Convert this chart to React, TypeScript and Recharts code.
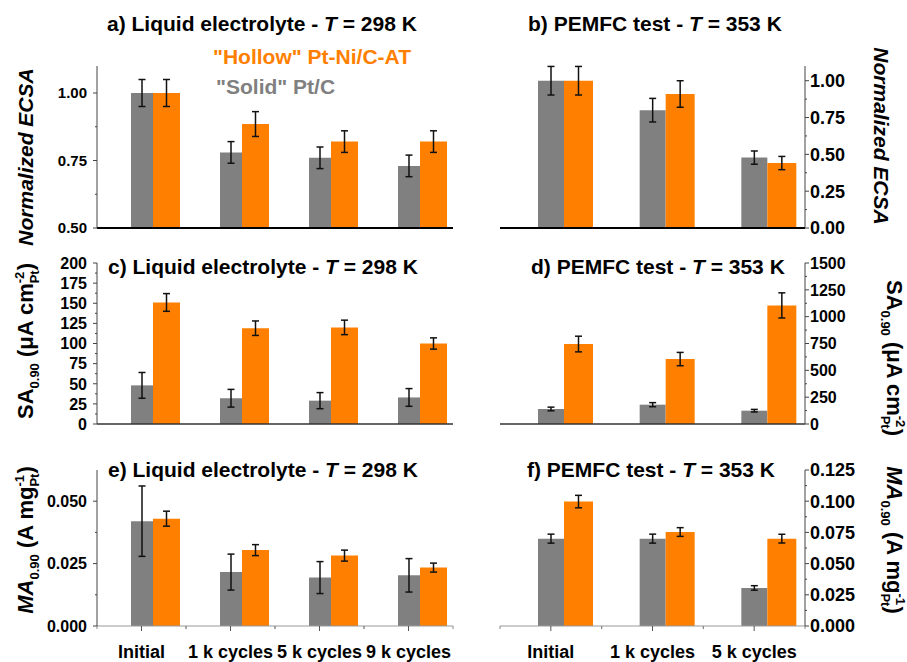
import React from 'react';
import { BarChart, Bar, XAxis, YAxis, ErrorBar } from 'recharts';

const FONT = '"Liberation Sans", Arial, Helvetica, sans-serif';
const GRAY = '#808080';
const ORANGE = '#FF8000';

// Categories
const liquidCycles = ['Initial', '1 k cycles', '5 k cycles', '9 k cycles'];
const pemfcCycles = ['Initial', '1 k cycles', '5 k cycles'];

// Series names (legend)
const seriesNames = ['"Solid" Pt/C', '"Hollow" Pt-Ni/C-AT'];

// Panel titles
const titlePrefixes = [
  'a) Liquid electrolyte - ',
  'b) PEMFC test - ',
  'c) Liquid electrolyte - ',
  'd) PEMFC test - ',
  'e) Liquid electrolyte - ',
  'f) PEMFC test - ',
];
const titleTemps = ['298 K', '353 K', '298 K', '353 K', '298 K', '353 K'];

// Normalized ECSA
const ecsaLiquidSolid = [1.0, 0.78, 0.76, 0.73];
const ecsaLiquidSolidErr = [0.05, 0.04, 0.04, 0.04];
const ecsaLiquidHollow = [1.0, 0.885, 0.82, 0.82];
const ecsaLiquidHollowErr = [0.05, 0.046, 0.04, 0.04];
const ecsaPemfcSolid = [1.0, 0.8, 0.478];
const ecsaPemfcSolidErr = [0.097, 0.08, 0.045];
const ecsaPemfcHollow = [1.0, 0.91, 0.441];
const ecsaPemfcHollowErr = [0.097, 0.09, 0.045];

// Specific activity at 0.90 V (µA cm-2 Pt)
const saLiquidSolid = [48, 32, 29, 33];
const saLiquidSolidErr = [16, 11, 10, 11];
const saLiquidHollow = [151, 119, 120, 100];
const saLiquidHollowErr = [11, 9, 9, 7];
const saPemfcSolid = [140, 180, 124];
const saPemfcSolidErr = [17, 19, 12];
const saPemfcHollow = [745, 605, 1105];
const saPemfcHollowErr = [73, 62, 117];

// Mass activity at 0.90 V (A mg-1 Pt)
const maLiquidSolid = [0.042, 0.0216, 0.0194, 0.0203];
const maLiquidSolidErr = [0.0141, 0.0072, 0.0064, 0.0067];
const maLiquidHollow = [0.043, 0.0304, 0.0282, 0.0234];
const maLiquidHollowErr = [0.003, 0.0022, 0.0022, 0.0018];
const maPemfcSolid = [0.07, 0.07, 0.0305];
const maPemfcSolidErr = [0.0036, 0.0036, 0.0018];
const maPemfcHollow = [0.0997, 0.0753, 0.07];
const maPemfcHollowErr = [0.005, 0.0035, 0.0035];

// Axis ticks
const ecsaLiquidMajor = [0.5, 0.75, 1.0];
const ecsaLiquidMinor = [0.625, 0.875];
const ecsaPemfcMajor = [0, 0.25, 0.5, 0.75, 1.0];
const ecsaPemfcMinor = [0.125, 0.375, 0.625, 0.875];
const saLiquidMajor = [0, 25, 50, 75, 100, 125, 150, 175, 200];
const saLiquidMinor = [12.5, 37.5, 62.5, 87.5, 112.5, 137.5, 162.5, 187.5];
const saPemfcMajor = [0, 250, 500, 750, 1000, 1250, 1500];
const saPemfcMinor = [125, 375, 625, 875, 1125, 1375];
const maLiquidMajor = [0, 0.025, 0.05];
const maLiquidMinor = [0.0125, 0.0375];
const maPemfcMajor = [0, 0.025, 0.05, 0.075, 0.1, 0.125];
const maPemfcMinor = [0.0125, 0.0375, 0.0625, 0.0875, 0.1125];

type Side = 'left' | 'right';

function YTick(props: any) {
  const { x, y, payload, side, majors, digits, fontSize } = props;
  const v = payload.value as number;
  const major = majors.some((m: number) => Math.abs(m - v) < 1e-9);
  const dir = side === 'left' ? -1 : 1;
  const len = major ? 4 : 2;
  const gap = side === 'left' ? 10 : 5;
  return (
    <g>
      <line x1={x} y1={y} x2={x + dir * len} y2={y} stroke="#444" strokeWidth={1} />
      {major && (
        <text
          x={x + dir * gap}
          y={y}
          dy="0.36em"
          textAnchor={side === 'left' ? 'end' : 'start'}
          fontSize={fontSize}
          fontWeight="bold"
          fontFamily={FONT}
          fill="#000"
        >
          {v.toFixed(digits)}
        </text>
      )}
    </g>
  );
}

function XTick(props: any) {
  const { x, y, payload, band } = props;
  return (
    <g>
      <line x1={x} y1={y} x2={x} y2={y + 5} stroke="#555" strokeWidth={1} />
      <line x1={x - band / 2} y1={y} x2={x - band / 2} y2={y + 3} stroke="#888" strokeWidth={1} />
      <line x1={x + band / 2} y1={y} x2={x + band / 2} y2={y + 3} stroke="#888" strokeWidth={1} />
      <text x={x} y={y + 32} textAnchor="middle" fontSize={18} fontWeight="bold" fontFamily={FONT} fill="#000">
        {payload.value}
      </text>
    </g>
  );
}

type PanelProps = {
  left: number;
  top: number;
  width: number;
  height: number;
  side: Side;
  categories: string[];
  solid: number[];
  solidErr: number[];
  hollow: number[];
  hollowErr: number[];
  domain: [number, number];
  majors: number[];
  minors: number[];
  digits: number;
  tickFont: number;
  solidWidth: number;
  hollowWidth: number;
  plotTop: number;
  xAxisHeight: number;
  marginLeft: number;
  marginRight: number;
  yAxisWidth: number;
  row: 'top' | 'middle' | 'bottom';
};

function Panel(p: PanelProps) {
  const data = p.categories.map((c, i) => ({
    cycle: c,
    solid: p.solid[i],
    solidErr: p.solidErr[i],
    hollow: p.hollow[i],
    hollowErr: p.hollowErr[i],
  }));
  const ticks = [...p.majors, ...p.minors].sort((a, b) => a - b);
  const plotWidth = p.width - p.marginLeft - p.marginRight - p.yAxisWidth;
  const band = plotWidth / p.categories.length;
  const axisLine =
    p.row === 'top'
      ? { stroke: '#000', strokeWidth: 2 }
      : p.row === 'middle'
      ? { stroke: '#333', strokeWidth: 1.5 }
      : { stroke: '#999', strokeWidth: 1 };
  return (
    <div style={{ position: 'absolute', left: p.left, top: p.top }}>
      <BarChart
        width={p.width}
        height={p.height}
        data={data}
        barGap={0}
        margin={{ top: p.plotTop, right: p.marginRight, bottom: 0, left: p.marginLeft }}
      >
        <XAxis
          dataKey="cycle"
          height={p.xAxisHeight}
          axisLine={axisLine}
          tickLine={false}
          tickSize={0}
          tickMargin={0}
          interval={0}
          tick={p.row === 'bottom' ? (tp: any) => <XTick {...tp} band={band} /> : false}
        />
        <YAxis
          type="number"
          orientation={p.side}
          width={p.yAxisWidth}
          domain={p.domain}
          allowDataOverflow
          ticks={ticks}
          interval={0}
          tickSize={0}
          tickMargin={0}
          tickLine={false}
          axisLine={{ stroke: '#444', strokeWidth: 1 }}
          tick={(tp: any) => (
            <YTick {...tp} side={p.side} majors={p.majors} digits={p.digits} fontSize={p.tickFont} />
          )}
        />
        {/* empty slot on the left so each gray bar sits centred on its category tick */}
        <Bar dataKey="spacer" barSize={p.hollowWidth} isAnimationActive={false} />
        <Bar dataKey="solid" name={seriesNames[0]} barSize={p.solidWidth} fill={GRAY} isAnimationActive={false}>
          <ErrorBar dataKey="solidErr" width={3.5} strokeWidth={1.5} stroke="#111" direction="y" />
        </Bar>
        <Bar dataKey="hollow" name={seriesNames[1]} barSize={p.hollowWidth} fill={ORANGE} isAnimationActive={false}>
          <ErrorBar dataKey="hollowErr" width={3.5} strokeWidth={1.5} stroke="#111" direction="y" />
        </Bar>
      </BarChart>
    </div>
  );
}

function Title({ x, y, i }: { x: number; y: number; i: number }) {
  return (
    <text x={x} y={y} fontSize={21} fontWeight="bold" fontFamily={FONT} fill="#000">
      {titlePrefixes[i]}
      <tspan fontStyle="italic">T</tspan>
      {' = ' + titleTemps[i]}
    </text>
  );
}

function ActivityLabel({
  x, y, rot, sym, italic, unit, exp,
}: { x: number; y: number; rot: number; sym: string; italic: boolean; unit: string; exp: string }) {
  return (
    <text
      transform={`translate(${x},${y}) rotate(${rot})`}
      textAnchor="middle"
      fontSize={22}
      fontWeight="bold"
      fontFamily={FONT}
      fill="#000"
    >
      <tspan fontStyle={italic ? 'italic' : 'normal'}>{sym}</tspan>
      <tspan fontSize={13} dy={6}>0.90</tspan>
      <tspan dy={-6}>{' (' + unit}</tspan>
      <tspan fontSize={13} dy={-9}>{exp}</tspan>
      <tspan fontSize={13} dx={-11.6} dy={15}>Pt</tspan>
      <tspan dy={-6}>)</tspan>
    </text>
  );
}

export default function App() {
  const left = { left: 0, width: 460, marginLeft: 0, marginRight: 7, yAxisWidth: 97, side: 'left' as Side, solidWidth: 22, hollowWidth: 27 };
  const right = { left: 450, width: 457, marginLeft: 50, marginRight: 0, yAxisWidth: 102, side: 'right' as Side, solidWidth: 26, hollowWidth: 29 };
  const topRow = { top: 0, height: 240, plotTop: 66, xAxisHeight: 12, row: 'top' as const };
  const midRow = { top: 240, height: 200, plotTop: 23, xAxisHeight: 16, row: 'middle' as const };
  const botRow = { top: 440, height: 222, plotTop: 30, xAxisHeight: 36, row: 'bottom' as const };

  return (
    <div style={{ position: 'absolute', left: 0, top: 0, width: 907, height: 662, background: '#fff', overflow: 'hidden' }}>
      <Panel {...left} {...topRow} categories={liquidCycles} solid={ecsaLiquidSolid} solidErr={ecsaLiquidSolidErr}
        hollow={ecsaLiquidHollow} hollowErr={ecsaLiquidHollowErr} domain={[0.5, 1.1]} majors={ecsaLiquidMajor}
        minors={ecsaLiquidMinor} digits={2} tickFont={15} />
      <Panel {...right} {...topRow} categories={pemfcCycles} solid={ecsaPemfcSolid} solidErr={ecsaPemfcSolidErr}
        hollow={ecsaPemfcHollow} hollowErr={ecsaPemfcHollowErr} domain={[0, 1.1]} majors={ecsaPemfcMajor}
        minors={ecsaPemfcMinor} digits={2} tickFont={18} />
      <Panel {...left} {...midRow} categories={liquidCycles} solid={saLiquidSolid} solidErr={saLiquidSolidErr}
        hollow={saLiquidHollow} hollowErr={saLiquidHollowErr} domain={[0, 200]} majors={saLiquidMajor}
        minors={saLiquidMinor} digits={0} tickFont={16} />
      <Panel {...right} {...midRow} categories={pemfcCycles} solid={saPemfcSolid} solidErr={saPemfcSolidErr}
        hollow={saPemfcHollow} hollowErr={saPemfcHollowErr} domain={[0, 1500]} majors={saPemfcMajor}
        minors={saPemfcMinor} digits={0} tickFont={16} />
      <Panel {...left} {...botRow} categories={liquidCycles} solid={maLiquidSolid} solidErr={maLiquidSolidErr}
        hollow={maLiquidHollow} hollowErr={maLiquidHollowErr} domain={[0, 0.0625]} majors={maLiquidMajor}
        minors={maLiquidMinor} digits={3} tickFont={16} />
      <Panel {...right} {...botRow} categories={pemfcCycles} solid={maPemfcSolid} solidErr={maPemfcSolidErr}
        hollow={maPemfcHollow} hollowErr={maPemfcHollowErr} domain={[0, 0.125]} majors={maPemfcMajor}
        minors={maPemfcMinor} digits={3} tickFont={18} />

      <svg width={907} height={662} style={{ position: 'absolute', left: 0, top: 0, pointerEvents: 'none' }}>
        <Title x={107} y={31} i={0} />
        <Title x={528} y={31} i={1} />
        <Title x={108} y={274} i={2} />
        <Title x={531} y={274} i={3} />
        <Title x={108} y={477} i={4} />
        <Title x={527} y={477} i={5} />

        <text x={213} y={64} fill={ORANGE} fontSize={21} fontWeight="bold" fontFamily={FONT}>{seriesNames[1]}</text>
        <text x={216} y={94} fill={GRAY} fontSize={21} fontWeight="bold" fontFamily={FONT}>{seriesNames[0]}</text>

        <text transform="translate(33,157) rotate(-90)" textAnchor="middle" fontSize={21} fontWeight="bold"
          fontStyle="italic" fontFamily={FONT} fill="#000">Normalized ECSA</text>
        <text transform="translate(874,136) rotate(90)" textAnchor="middle" fontSize={21} fontWeight="bold"
          fontStyle="italic" fontFamily={FONT} fill="#000">Normalized ECSA</text>

        <ActivityLabel x={33} y={341} rot={-90} sym="SA" italic={false} unit={'\u03bcA cm'} exp="-2" />
        <ActivityLabel x={887} y={358} rot={90} sym="SA" italic={false} unit={'\u03bcA cm'} exp="-2" />
        <ActivityLabel x={33} y={540} rot={-90} sym="MA" italic={true} unit="A mg" exp="-1" />
        <ActivityLabel x={887} y={540} rot={90} sym="MA" italic={true} unit="A mg" exp="-1" />
      </svg>
    </div>
  );
}
